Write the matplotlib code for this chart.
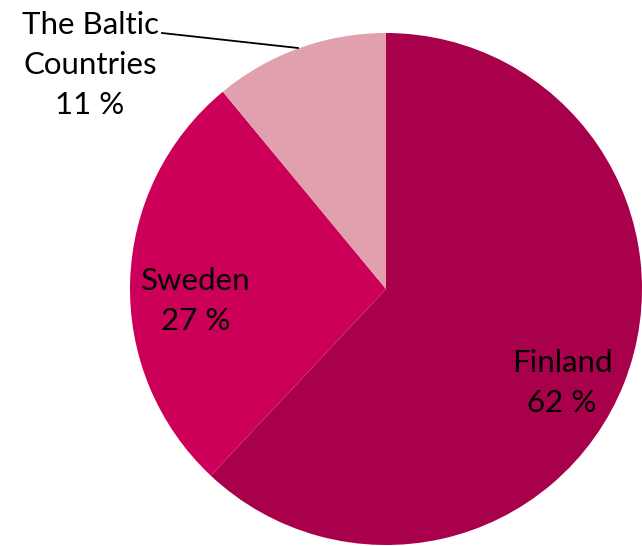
import matplotlib
matplotlib.use('Agg')
import matplotlib.pyplot as plt

# Data
regions = ['Finland', 'Sweden', 'The Baltic\nCountries']
shares = [62, 27, 11]
colors = ['#A8004A', '#CC0058', '#E0A0AE']

plt.rcParams['font.family'] = ['Lato', 'DejaVu Sans']

fig = plt.figure(figsize=(6.42, 5.46), dpi=100)
ax = fig.add_axes([0, 0, 1, 1])

# pie in pixel coordinates (y measured from bottom)
cx, cy, r = 386, 546 - 289, 256
ax.pie(shares, colors=colors, startangle=90, counterclock=False,
       center=(cx, cy), radius=r, frame=True,
       wedgeprops=dict(linewidth=0))
ax.set_xlim(0, 642)
ax.set_ylim(0, 546)
ax.set_aspect('equal')
ax.axis('off')

fs = 22.5
ls = 1.5
# Finland and Sweden labels inside the slices
ax.text(562, 546 - 383, f'{regions[0]}\n{shares[0]} %', ha='center', va='center',
        fontsize=fs, linespacing=ls)
ax.text(196, 546 - 301, f'{regions[1]}\n{shares[1]} %', ha='center', va='center',
        fontsize=fs, linespacing=ls)
# Baltic label outside with leader line
ax.text(90, 546 - 65, f'{regions[2]}\n{shares[2]} %', ha='center', va='center',
        fontsize=fs, linespacing=ls)
ax.plot([162, 298], [546 - 33, 546 - 48], color='black', linewidth=1.3)

fig.savefig('out.png', dpi=100)
